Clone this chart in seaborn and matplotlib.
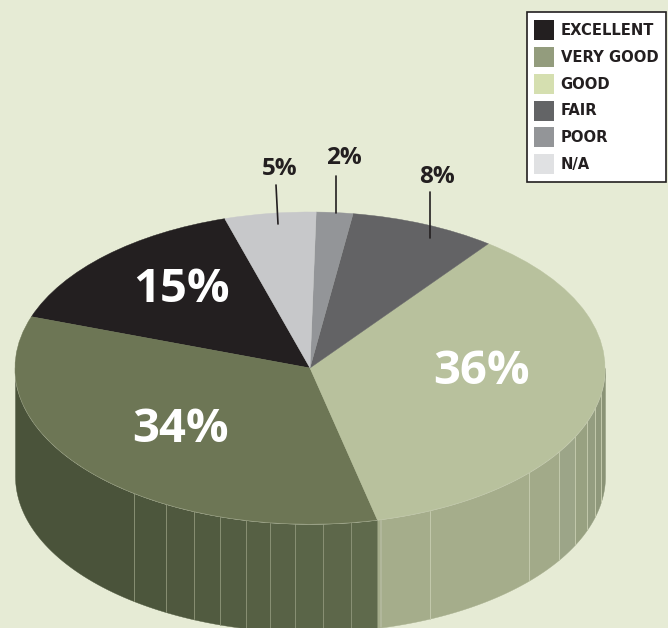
import numpy as np
import matplotlib
matplotlib.use("Agg")
import matplotlib.pyplot as plt
from matplotlib.patches import Patch
import seaborn as sns

# Survey shares, in the order the wedges run counter-clockwise
categories = ["EXCELLENT", "VERY GOOD", "GOOD", "FAIR", "POOR", "N/A"]
shares = [15, 34, 36, 8, 2, 5]

top_colors = ["#231f20", "#6d7655", "#b8c19d", "#636365", "#939598", "#c7c8ca"]
legend_colors = ["#231f20", "#939c7d", "#d5dfb0", "#636466", "#939598", "#e0e1e3"]

BACKGROUND = "#e6ebd5"
WIDTH, HEIGHT = 668, 628
CX, CY = 310.0, 368.0      # pie centre, pixels
RX, RY = 295.0, 156.0      # ellipse radii, pixels
DEPTH = 108.0 / RY         # wall height in axes units
START_ANGLE = 106.8

# Angles (degrees) of the facet seams on the front wall
dark_seams = [-126.6, -119.2, -113.1, -107.8, -102.5, -97.8, -92.9, -87.5, -82.0]
light_seams = [-66.0, -42.0, -32.4, -26.0, -20.0, -15.0, -9.5]

sns.set_theme(style="white", rc={"figure.facecolor": BACKGROUND, "axes.facecolor": BACKGROUND})
plt.rcParams["font.family"] = ["Open Sans", "DejaVu Sans"]

fig = plt.figure(figsize=(WIDTH / 100, HEIGHT / 100), dpi=100)
ax = fig.add_axes([0, 0, 1, 1])


def to_x(px):
    return (px - CX) / RX


def to_y(py):
    return (CY - py) / RY


def wall_facet(t0, t1, color):
    t = np.radians(np.linspace(t0, t1, 40))
    ax.fill_between(np.cos(t), np.sin(t), np.sin(t) - DEPTH, color=color, lw=0.3, zorder=1)


# Boundary between the two wedges visible on the front wall
front_edge = START_ANGLE + 3.6 * (shares[0] + shares[1]) - 360

# Shaded facets under the VERY GOOD wedge
dark_edges = [-180] + dark_seams + [front_edge]
dark_shades = sns.blend_palette(["#4a533a", "#5f6a4c"], len(dark_edges) - 1)
for a, b, c in zip(dark_edges[:-1], dark_edges[1:], dark_shades):
    wall_facet(a, b, c)

# Shaded facets under the GOOD wedge
light_edges = [front_edge] + light_seams + [0]
light_shades = ["#a5ad8b", "#a5ad8b", "#a2aa89", "#9ca588", "#98a181", "#949d80", "#8f987b", "#8a9376"]
for a, b, c in zip(light_edges[:-1], light_edges[1:], light_shades):
    wall_facet(a, b, c)

# Fine seam lines
for angle in dark_seams:
    t = np.radians(angle)
    ax.plot([np.cos(t)] * 2, [np.sin(t), np.sin(t) - DEPTH], color="#8f967a", lw=0.6, zorder=2)
for angle in light_seams:
    t = np.radians(angle)
    ax.plot([np.cos(t)] * 2, [np.sin(t), np.sin(t) - DEPTH], color="#c3c9ac", lw=0.7, zorder=2)
t = np.radians(front_edge + 0.8)
ax.plot([np.cos(t)] * 2, [np.sin(t), np.sin(t) - DEPTH], color="#b4ba9f", lw=1.2, zorder=2)

# Pale highlight along the front rim
t = np.radians(np.linspace(-180, 0, 200))
ax.plot(np.cos(t), np.sin(t), color="#c9ceb6", lw=0.7, zorder=2)

# Top face of the pie
ax.pie(shares, colors=top_colors, startangle=START_ANGLE, radius=1.0, center=(0, 0),
       wedgeprops={"linewidth": 0.3, "zorder": 3})
for wedge, c in zip(ax.patches, top_colors):
    wedge.set_edgecolor(c)
ax.set_aspect("auto")
ax.set_xlim(to_x(0), to_x(WIDTH))
ax.set_ylim(to_y(HEIGHT), to_y(0))
ax.set_axis_off()

# Large white labels sit on the wedges
large_at = {"EXCELLENT": (181, 289), "VERY GOOD": (180, 430), "GOOD": (481, 372)}
for name, v in zip(categories, shares):
    if name in large_at:
        px, py = large_at[name]
        ax.text(to_x(px), to_y(py), f"{v}%", color="white", fontsize=34, fontweight="bold",
                ha="center", va="center", zorder=5)

# Small labels above the pie, each with a leader line into its wedge
small_at = {
    "FAIR": ((437, 177), (430, 192), (430, 238)),
    "POOR": ((344, 158), (336, 176), (336, 213)),
    "N/A": ((280, 169), (276, 185), (278, 224)),
}
for name, v in zip(categories, shares):
    if name in small_at:
        (px, py), (x0, y0), (x1, y1) = small_at[name]
        ax.text(to_x(px), to_y(py), f"{v}%", color="#231f20", fontsize=17.5, fontweight="bold",
                ha="center", va="center", zorder=5)
        ax.plot([to_x(x0), to_x(x1)], [to_y(y0), to_y(y1)], color="#231f20", lw=1.2, zorder=5)

# Key with its own swatch tints
handles = [Patch(facecolor=c, edgecolor="none") for c in legend_colors]
legend = ax.legend(
    handles, categories,
    loc="upper left", bbox_to_anchor=(526.5 / WIDTH, 1 - 12.5 / HEIGHT),
    bbox_transform=fig.transFigure, borderaxespad=0,
    prop={"family": "DejaVu Sans", "weight": "bold", "size": 10.6},
    labelcolor="#231f20",
    handlelength=1.36, handleheight=1.71, handletextpad=0.41,
    labelspacing=0.46, borderpad=0.54,
    frameon=True, fancybox=False, framealpha=1, facecolor="white", edgecolor="#231f20",
)
legend.get_frame().set_linewidth(1.2)
legend.set_zorder(6)

fig.savefig("out.png", dpi=100, facecolor=BACKGROUND)
